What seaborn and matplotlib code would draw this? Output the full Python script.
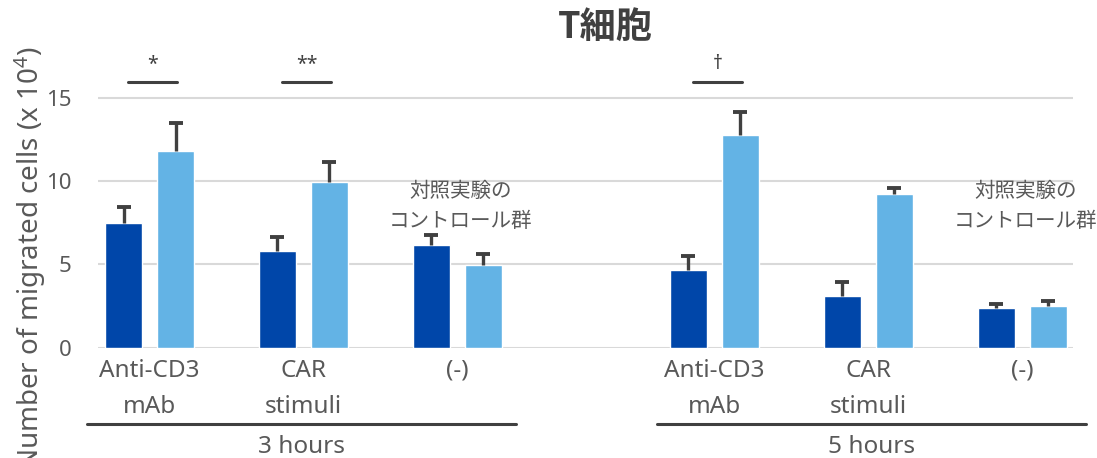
import numpy as np
import pandas as pd
import seaborn as sns
import matplotlib.pyplot as plt
import matplotlib.transforms as mtransforms

# Data
conditions = ["Anti-CD3\nmAb", "CAR\nstimuli", "(-)", "Anti-CD3\nmAb", "CAR\nstimuli", "(-)"]
times = ["3 hours", "5 hours"]
series = ["A", "B"]
values_a = [7.46, 5.80, 6.16, 4.65, 3.09, 2.37]
values_b = [11.80, 9.94, 4.95, 12.76, 9.22, 2.49]
errors_a = [1.00, 0.82, 0.58, 0.84, 0.86, 0.22]
errors_b = [1.66, 1.22, 0.66, 1.38, 0.34, 0.30]
significance = ["*", "**", "", "\u2020", "", ""]
note_text = "対照実験の\nコントロール群"
yticks = [0, 5, 10, 15]

# Colors
dark_blue = "#0046A9"
light_blue = "#63B3E5"
text_gray = "#595959"
line_gray = "#404040"

sns.set_style("white")
plt.rcParams["font.family"] = ["Noto Sans", "Noto Sans CJK JP"]
plt.rcParams["mathtext.default"] = "regular"

# x positions: two time blocks with a wider gap between them
positions = [i + 0.67 * (i >= 3) for i in range(len(conditions))]

df = pd.DataFrame({
    "pos": positions * 2,
    "value": values_a + values_b,
    "series": [series[0]] * 6 + [series[1]] * 6,
})

fig = plt.figure(figsize = (10.97, 4.58), dpi = 100)
ax = fig.add_axes([98 / 1097, 1 - 347.5 / 458, 975 / 1097, 347.5 / 458])

sns.barplot(data = df, x = "pos", y = "value", hue = "series", native_scale = True,
            palette = [dark_blue, light_blue], saturation = 1, width = 0.675, gap = 0.29,
            errorbar = None, legend = False, ax = ax)

# One-sided error bars on top of each bar
bars = sorted(ax.patches, key = lambda p: p.get_x())
errs = []
for ea, eb in zip(errors_a, errors_b):
    errs += [ea, eb]
xs = [b.get_x() + b.get_width() / 2 for b in bars]
hs = [b.get_height() for b in bars]
eb = ax.errorbar(xs, hs, yerr = [np.zeros(len(errs)), errs], fmt = "none",
                 ecolor = line_gray, elinewidth = 2.4, capsize = 5, capthick = 2.8, zorder = 3)
eb[1][0].set_visible(False)

ax.set_xlim(-0.335, 6.0)
ax.set_ylim(0, 347.5 / 16.65)
ax.set_yticks(yticks)
ax.set_xticks(positions)
ax.set_xticklabels(conditions, fontsize = 17.5, color = text_gray, linespacing = 1.68)
ax.tick_params(axis = "y", length = 0, pad = 19, labelsize = 16, labelcolor = text_gray)
ax.tick_params(axis = "x", length = 0, pad = 8)
ax.set_xlabel("")
ax.set_ylabel("")
ax.yaxis.grid(True, color = "#D9D9D9", lw = 1.5)
ax.set_axisbelow(True)
for s in ax.spines.values():
    s.set_visible(False)

# Significance markers
for p, mark in zip(positions, significance):
    if mark:
        ax.plot([p - 0.16 + 0.02, p + 0.16 + 0.02], [15.95, 15.95], color = line_gray, lw = 2.2, clip_on = False)
        ax.text(p + 0.02, 16.4, mark, ha = "center", va = "bottom", fontsize = 14, color = line_gray)

# Control group notes
for p in [positions[2], positions[5]]:
    ax.text(p + 0.02, 8.5, note_text, ha = "center", va = "center", fontsize = 14.8,
            color = text_gray, family = ["Noto Sans CJK JP"], linespacing = 1.45)

# Time block lines and labels under the axis
trans = mtransforms.blended_transform_factory(ax.transData, fig.transFigure)
blocks = [(positions[0] - 0.406, positions[2] + 0.379), (positions[3] - 0.37, positions[5] + 0.417)]
for (x0, x1), t in zip(blocks, times):
    ax.plot([x0, x1], [1 - 424 / 458, 1 - 424 / 458], color = line_gray, lw = 2.2,
            transform = trans, clip_on = False)
    ax.text((x0 + x1) / 2, 1 - 453 / 458, t, ha = "center", va = "baseline", fontsize = 17.5,
            color = text_gray, transform = trans)

fig.text(605 / 1097, 1 - 28 / 458, "T細胞", ha = "center", va = "center", fontsize = 26,
         fontweight = "bold", color = line_gray, family = ["Noto Sans CJK JP"])
fig.text(30 / 1097, 1 - 46 / 458, "Number of migrated cells (x 10$^{4}$)", rotation = 90,
         ha = "center", va = "top", fontsize = 20, color = text_gray)

fig.savefig("out.png", dpi = 100)
